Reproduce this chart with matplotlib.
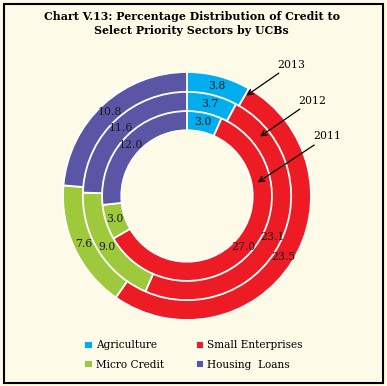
import matplotlib
matplotlib.use("Agg")
import matplotlib.pyplot as plt
from matplotlib.patches import Rectangle
import numpy as np

# data (per cent of credit)
sectors = ["Agriculture", "Small Enterprises", "Micro Credit", "Housing  Loans"]
share_2011 = [3.0, 27.0, 3.0, 12.0]
share_2012 = [3.7, 23.1, 9.0, 11.6]
share_2013 = [3.8, 23.5, 7.6, 10.8]
years = ["2011", "2012", "2013"]

colors = ["#00AEEF", "#ED1C24", "#9DC93B", "#5B55A5"]
bg = "#FDFBE8"

fig = plt.figure(figsize=(3.87, 3.86), dpi=100)
fig.patch.set_facecolor(bg)
fig.patches.append(Rectangle((4 / 387, 3 / 386), 379 / 387, 379 / 386,
                             transform=fig.transFigure, fill=False,
                             edgecolor="black", linewidth=1.5))

fig.text(0.495, 0.94, "Chart V.13: Percentage Distribution of Credit to\nSelect Priority Sectors by UCBs",
         ha="center", va="center", fontsize=7.9, fontweight="bold",
         family="DejaVu Serif", linespacing=1.3)

ax = fig.add_axes([63 / 387, 1 - 320 / 386, 248 / 387, 248 / 386])
ax.set_facecolor(bg)

ring_width = 0.16
radii = [0.69, 0.845, 1.0]
all_wedges = None
for data, r in zip([share_2011, share_2012, share_2013], radii):
    wedges, _ = ax.pie(data, radius=r, colors=colors, startangle=90,
                       counterclock=False,
                       wedgeprops=dict(width=ring_width, edgecolor="white",
                                       linewidth=1.3))
    for w, v in zip(wedges, data):
        ang = np.deg2rad((w.theta1 + w.theta2) / 2)
        rm = r - ring_width / 2
        ax.text(rm * np.cos(ang), rm * np.sin(ang), f"{v:.1f}",
                ha="center", va="center", fontsize=7.8, family="DejaVu Serif",
                color="#1a1a1a")
    all_wedges = wedges

ax.set_xlim(-1, 1)
ax.set_ylim(-1, 1)
ax.set_aspect("equal")
ax.axis("off")

# year pointers
arrow_text = [(1.13, 0.48), (1.01, 0.77), (0.84, 1.06)]
arrow_tip = [(0.57, 0.11), (0.59, 0.48), (0.48, 0.81)]
for yr, txt, tip in zip(years, arrow_text, arrow_tip):
    ax.annotate(yr, xy=tip, xytext=txt, ha="center", va="center",
                fontsize=7.8, family="DejaVu Serif", annotation_clip=False,
                arrowprops=dict(arrowstyle="->,head_length=0.5,head_width=0.25",
                                color="black", lw=0.9, shrinkA=1, shrinkB=0))

order = [0, 2, 1, 3]
fig.legend([all_wedges[i] for i in order], [sectors[i] for i in order],
           loc="center", bbox_to_anchor=(0.5, 0.08), ncol=2, frameon=False,
           prop=dict(family="DejaVu Serif", size=7.6),
           handlelength=0.8, handleheight=0.8, handletextpad=0.3,
           columnspacing=3.0, labelspacing=0.9)

fig.savefig("out.png", dpi=100, facecolor=bg)
